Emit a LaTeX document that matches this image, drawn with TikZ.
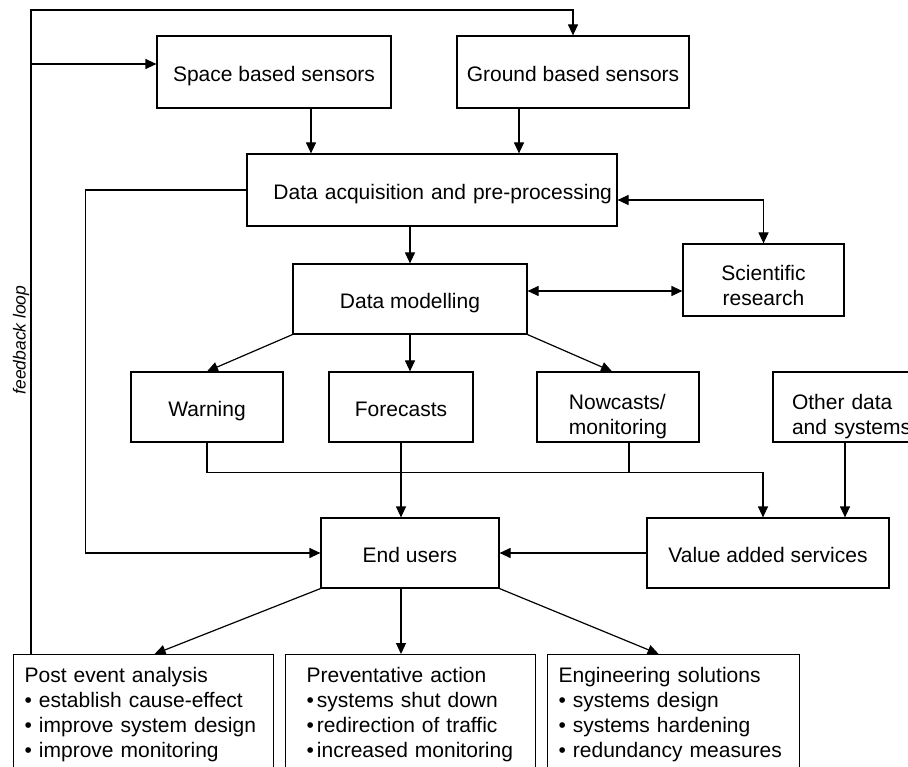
\documentclass[tikz,border=0pt]{standalone}
\usepackage{fontspec}
\setmainfont{Liberation Sans}
\usetikzlibrary{arrows.meta, positioning, calc}

\begin{document}
\begin{tikzpicture}[x=1pt, y=-1pt, >={Triangle[length=11pt, width=10pt]}, line width=1.2pt,
        font=\fontsize{21pt}{25pt}\selectfont]
            \useasboundingbox (0,0) rectangle (908,767);
            \clip (0,0) rectangle (908,767);
            \begin{scope}[every node/.style={draw, 
                line width=1.2pt, 
                inner sep=0pt, 
                text height=23.5pt, 
                text depth=4pt, 
                align=center}]
                \node[minimum width=234pt, minimum height=72pt] at (274,72) (space) {Space based sensors};
                \node[minimum width=232pt, minimum height=72pt] at (573,72) (ground) {Ground based sensors};
                \node[minimum height=72pt, text width=360pt, inner xsep=5pt, align=right] at (432,190) (acq) {Data acquisition and pre-processing};
                \node[minimum width=234pt, minimum height=70pt] at (410,299) (model) {Data modelling};
                \node[minimum width=152pt, minimum height=70pt] at (207,407) (warn) {Warning};
                \node[minimum width=144pt, minimum height=70pt] at (401,407) (fore) {Forecasts};
                \node[minimum width=178pt, minimum height=70pt] at (410,553) (users) {End users};
                \node[minimum width=242pt, minimum height=70pt] at (768,553) (vas) {Value added services};
            \end{scope}
            \begin{scope}[every node/.style={draw, 
                line width=1.2pt, 
                inner sep=0pt}]
                \node[minimum width=161pt, minimum height=72pt, align=center] at (763.5,280) (sci) {\rule{0pt}{25.5pt}Scientific\\research};
                \node[minimum width=162pt, minimum height=70pt, align=left] at (618,407) (now) {\rule{0pt}{34.5pt}Nowcasts/\\monitoring};
                \node[minimum height=70pt, text width=134pt, inner xsep=5pt, align=left] at (845,407) (other) {\leftskip=14pt \rule{0pt}{34.5pt}Other data\\and systems\par};
            \end{scope}
            \begin{scope}[every node/.style={draw, 
                line width=1.2pt, 
                anchor=north west, 
                inner xsep=11pt, 
                inner ysep=13pt, 
                align=left}]
                \node[text width=238pt] at (13,654) (post) {Post event analysis\\
                    \textbullet\ establish cause-effect\\
                    \textbullet\ improve system design\\
                    \textbullet\ improve monitoring};
                \node[text width=228pt] at (285,654) (prev) {\leftskip=10pt Preventative action\\
                    \textbullet\kern3pt systems shut down\\
                    \textbullet\kern3pt redirection of traffic\\
                    \textbullet\kern3pt increased monitoring\par};
                \node[text width=230pt] at (547,654) (eng) {Engineering solutions\\
                    \textbullet\ systems design\\
                    \textbullet\ systems hardening\\
                    \textbullet\ redundancy measures};
            \end{scope}
            \node[rotate=90, font=\itshape\fontsize{17.5pt}{20pt}\selectfont] at (21,340) (looplabel) {feedback loop};
            % feedback loop
            \coordinate (loopcorner) at (31,10);
            \draw[->] (post.north -| loopcorner) -- (loopcorner) -| (ground.north);
            \draw[<-] ([yshift=8pt]space.west) -- ++(-126,0);
            % sensors and processing
            \draw[->] ([xshift=37pt]space.south) -- ([xshift=37pt]space.south |- acq.north);
            \draw[->] ([xshift=-54pt]ground.south) -- ([xshift=-54pt]ground.south |- acq.north);
            \draw[->] (acq.west) -- ++(-161,0) |- (users.west);
            \draw[->] (model.north |- acq.south) -- (model.north);
            \draw[<->] ([yshift=-10pt]acq.east) -| (sci.north);
            \draw[<->] ([yshift=8pt]model.east) -- ([yshift=8pt]model.east -| sci.west);
            % products
            \draw[->] (model.south west) -- (warn.north);
            \draw[->] (model.south) -- (model.south |- fore.north);
            \draw[->] (model.south east) -- ([xshift=-6pt]now.north);
            \draw[->] (warn.south) -- ++(0,30) coordinate (bus) -| ([xshift=-5pt]vas.north);
            \draw ([xshift=11pt]now.south) -- ([xshift=11pt]now.south |- bus);
            \draw[->] (fore.south) -- (fore.south |- users.north);
            \draw[->] (other.south) -- (other.south |- vas.north);
            \draw[->] (vas.west) -- (users.east);
            % responses
            \draw[->] (users.south west) -- ([xshift=11pt]post.north);
            \draw[->] ([xshift=-9pt]users.south) -- ([xshift=-9pt]users.south |- prev.north);
            \draw[->] (users.south east) -- ([xshift=-15pt]eng.north);
        \end{tikzpicture}
\end{document}
